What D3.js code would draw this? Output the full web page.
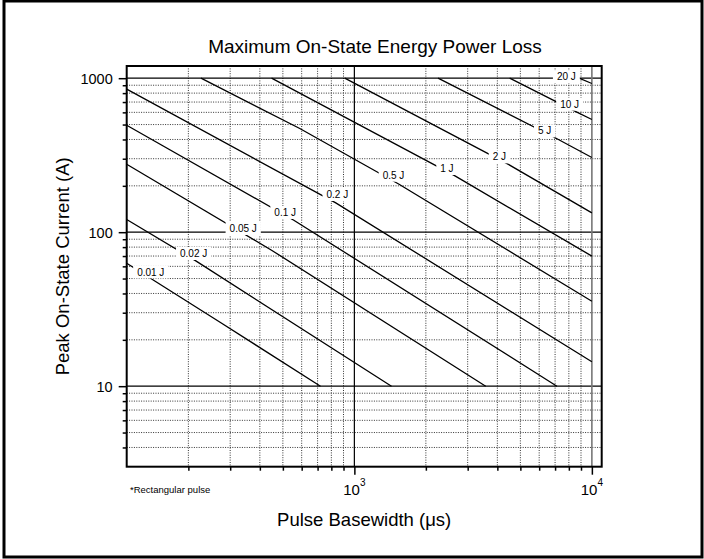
<!DOCTYPE html>
<html><head><meta charset="utf-8">
<script src="https://cdn.jsdelivr.net/npm/d3@7"></script>
<style>
body{margin:0;background:#fff}
svg{display:block}
text{font-family:"Liberation Sans",Arial,Helvetica,sans-serif;fill:#000}
</style>
</head><body>
<svg id="chart" width="704" height="559"></svg>
<script>
// ---- data (pulse basewidth in µs, peak current in A) ----
const energyNames = ["0.01 J","0.02 J","0.05 J","0.1 J","0.2 J","0.5 J","1 J","2 J","5 J","10 J","20 J"];
const curve001 = [[110,62.9],[272,26.0],[720,10]];
const curve002 = [[110,120.9],[215,65.1],[1433,10]];
const curve005 = [[110,276.4],[448,76.4],[3573,10]];
const curve01  = [[110,495.2],[556,119.6],[7128,10]];
const curve02  = [[110,848.5],[835,155.0],[10000,14.4]];
const curve05  = [[226,1000],[589,471.5],[1542,204.9],[10000,35.6]];
const curve1   = [[448,1000],[2620,234.5],[10000,69.9]];
const curve2   = [[911,1000],[4434,276.4],[10000,133.5]];
const curve5   = [[2251,1000],[6971,412],[10000,305.6]];
const curve10  = [[4507,1000],[8600,604],[10000,539]];
const curve20  = [[8830,1000],[10000,924]];
const curves = [curve001,curve002,curve005,curve01,curve02,curve05,curve1,curve2,curve5,curve10,curve20];
// label anchor points (µs, A)
const labelPoints = [[138.9,55.2],[210.5,72.7],[340.4,105.7],[511.3,134.3],[847.7,175.7],[1462,234.5],[2454,259.2],[4080,308.3],[6327,454.8],[8061,678.0],[7810,1019.6]];

const xMajor = [1000, 10000];
const xMinor = [200,300,400,500,600,700,800,900,2000,3000,4000,5000,6000,7000,8000,9000];
const xTickBase = ["10","10"];
const xTickExp = ["3","4"];
const yMajor = [10, 100, 1000];
const yMinor = [4,5,6,7,8,9,20,30,40,50,60,70,80,90,200,300,400,500,600,700,800,900];

const titleText = "Maximum On-State Energy Power Loss";
const xTitle = "Pulse Basewidth (\u03BCs)";
const yTitle = "Peak On-State Current (A)";
const noteText = "*Rectangular pulse";

// ---- layout ----
const L = 126.7, R = 601.7, T = 66, B = 466.7;
const svg = d3.select("#chart");
const x = d3.scaleLog().domain([110, 11000]).range([L, R]);
const y = d3.scaleLog().domain([3, 1200]).range([B, T]);

// outer border
svg.append("rect").attr("x",4).attr("y",1).attr("width",698).attr("height",556)
  .attr("fill","none").attr("stroke","#000").attr("stroke-width",3);

// title
svg.append("text").attr("x",375).attr("y",53).attr("text-anchor","middle")
  .attr("font-size",19).text(titleText);

const plot = svg.append("g");
svg.append("defs").append("clipPath").attr("id","clip")
  .append("rect").attr("x",L).attr("y",T).attr("width",R-L).attr("height",B-T);

// grid
const grid = plot.append("g");
grid.selectAll(".vmin").data(xMinor).join("line")
  .attr("x1",d=>x(d)).attr("x2",d=>x(d)).attr("y1",T).attr("y2",B)
  .attr("stroke","#333").attr("stroke-width",1).attr("stroke-dasharray","1,1.4");
grid.selectAll(".hmin").data(yMinor).join("line")
  .attr("y1",d=>y(d)).attr("y2",d=>y(d)).attr("x1",L).attr("x2",R)
  .attr("stroke","#333").attr("stroke-width",1).attr("stroke-dasharray","1,1.4");
grid.selectAll(".hmaj").data(yMajor).join("line")
  .attr("y1",d=>y(d)).attr("y2",d=>y(d)).attr("x1",L).attr("x2",R)
  .attr("stroke","#000").attr("stroke-width",1.2);
grid.selectAll(".vmaj").data(xMajor).join("line")
  .attr("x1",d=>x(d)).attr("x2",d=>x(d)).attr("y1",T).attr("y2",B)
  .attr("stroke",(d,i)=> i===0 ? "#000" : "#777").attr("stroke-width",(d,i)=> i===0 ? 1.2 : 1.6);

// energy curves
const lineGen = d3.line().x(d=>x(d[0])).y(d=>y(d[1]));
plot.append("g").attr("clip-path","url(#clip)")
  .selectAll("path").data(curves).join("path")
  .attr("d",lineGen).attr("fill","none").attr("stroke","#000").attr("stroke-width",1.3);

// curve labels with white boxes
const lab = plot.append("g");
energyNames.forEach((name,i)=>{
  const p = labelPoints[i];
  const g = lab.append("g");
  const t = g.append("text").attr("x",x(p[0])).attr("y",y(p[1])).attr("dy","0.36em")
    .attr("text-anchor","middle").attr("font-size",10).text(name);
  const bb = t.node().getBBox();
  g.insert("rect","text").attr("x",bb.x-4).attr("y",y(p[1])-6.5)
    .attr("width",bb.width+8).attr("height",13).attr("fill","#fff");
});

// frame
svg.append("rect").attr("x",L).attr("y",T).attr("width",R-L).attr("height",B-T)
  .attr("fill","none").attr("stroke","#000").attr("stroke-width",2);

// axes ticks
const yAxMaj = svg.append("g").attr("transform",`translate(${L},0)`)
  .call(d3.axisLeft(y).tickValues(yMajor).tickSize(8).tickPadding(6).tickFormat(d3.format("d")));
const yAxMin = svg.append("g").attr("transform",`translate(${L},0)`)
  .call(d3.axisLeft(y).tickValues(yMinor).tickSize(4).tickFormat(""));
const xAxMaj = svg.append("g").attr("transform",`translate(0,${B})`)
  .call(d3.axisBottom(x).tickValues(xMajor).tickSize(8).tickFormat(""));
const xAxMin = svg.append("g").attr("transform",`translate(0,${B})`)
  .call(d3.axisBottom(x).tickValues(xMinor).tickSize(4).tickFormat(""));
[yAxMaj,yAxMin,xAxMaj,xAxMin].forEach(a=>{
  a.select(".domain").remove();
  a.selectAll("line").attr("stroke","#000").attr("stroke-width",1.5);
  a.attr("font-family",null).attr("font-size",null);
});
yAxMaj.selectAll("text").attr("font-size",14.5).attr("dy","0.36em");

// x tick labels with superscripts
xMajor.forEach((v,i)=>{
  const t = svg.append("text").attr("x",x(v)).attr("y",495).attr("text-anchor","middle").attr("font-size",15);
  t.append("tspan").text(xTickBase[i]);
  t.append("tspan").attr("dy",-9).attr("font-size",10).text(xTickExp[i]);
});

// note
svg.append("text").attr("x",130).attr("y",493).attr("font-size",9.5).text(noteText);

// axis titles
svg.append("text").attr("x",(L+R)/2).attr("y",526).attr("text-anchor","middle")
  .attr("font-size",18.5).text(xTitle);
svg.append("text").attr("transform",`translate(68.5,${(T+B)/2}) rotate(-90)`)
  .attr("text-anchor","middle").attr("font-size",18.5).text(yTitle);
</script>
</body></html>
